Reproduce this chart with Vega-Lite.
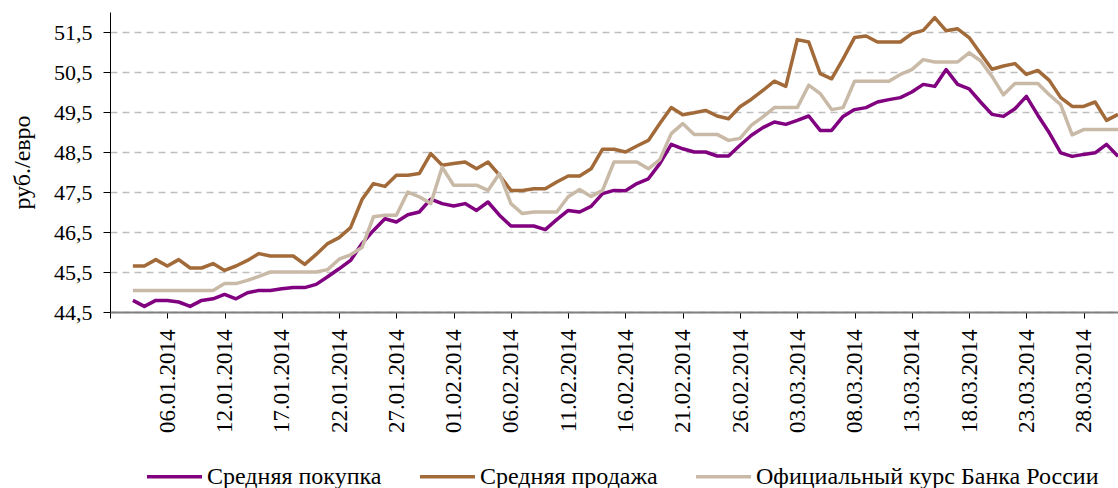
{
  "$schema": "https://vega.github.io/schema/vega-lite/v6.json",
  "width": 1008,
  "height": 300,
  "autosize": {"type": "none"},
  "padding": {"left": 110, "top": 12, "right": 0, "bottom": 176},
  "background": "white",
  "config": {"view": {"stroke": null}, "font": "Liberation Serif"},
  "data": {"values": [
    {"date": "03.01.2014", "buy": 44.79, "sell": 45.65, "cbr": 45.04},
    {"date": "04.01.2014", "buy": 44.64, "sell": 45.65, "cbr": 45.04},
    {"date": "05.01.2014", "buy": 44.79, "sell": 45.81, "cbr": 45.04},
    {"date": "06.01.2014", "buy": 44.79, "sell": 45.65, "cbr": 45.04},
    {"date": "08.01.2014", "buy": 44.75, "sell": 45.81, "cbr": 45.04},
    {"date": "09.01.2014", "buy": 44.64, "sell": 45.60, "cbr": 45.04},
    {"date": "10.01.2014", "buy": 44.79, "sell": 45.60, "cbr": 45.04},
    {"date": "11.01.2014", "buy": 44.83, "sell": 45.71, "cbr": 45.04},
    {"date": "12.01.2014", "buy": 44.94, "sell": 45.54, "cbr": 45.21},
    {"date": "13.01.2014", "buy": 44.83, "sell": 45.65, "cbr": 45.21},
    {"date": "14.01.2014", "buy": 44.98, "sell": 45.79, "cbr": 45.29},
    {"date": "15.01.2014", "buy": 45.04, "sell": 45.96, "cbr": 45.39},
    {"date": "16.01.2014", "buy": 45.04, "sell": 45.90, "cbr": 45.50},
    {"date": "17.01.2014", "buy": 45.08, "sell": 45.90, "cbr": 45.50},
    {"date": "18.01.2014", "buy": 45.11, "sell": 45.90, "cbr": 45.50},
    {"date": "19.01.2014", "buy": 45.11, "sell": 45.69, "cbr": 45.50},
    {"date": "20.01.2014", "buy": 45.19, "sell": 45.94, "cbr": 45.50},
    {"date": "21.01.2014", "buy": 45.38, "sell": 46.21, "cbr": 45.56},
    {"date": "22.01.2014", "buy": 45.58, "sell": 46.36, "cbr": 45.82},
    {"date": "23.01.2014", "buy": 45.79, "sell": 46.61, "cbr": 45.93},
    {"date": "24.01.2014", "buy": 46.21, "sell": 47.31, "cbr": 46.11},
    {"date": "25.01.2014", "buy": 46.54, "sell": 47.71, "cbr": 46.88},
    {"date": "26.01.2014", "buy": 46.83, "sell": 47.64, "cbr": 46.92},
    {"date": "27.01.2014", "buy": 46.75, "sell": 47.92, "cbr": 46.92},
    {"date": "28.01.2014", "buy": 46.93, "sell": 47.92, "cbr": 47.50},
    {"date": "29.01.2014", "buy": 47.00, "sell": 47.96, "cbr": 47.38},
    {"date": "30.01.2014", "buy": 47.32, "sell": 48.46, "cbr": 47.21},
    {"date": "31.01.2014", "buy": 47.21, "sell": 48.17, "cbr": 48.12},
    {"date": "01.02.2014", "buy": 47.15, "sell": 48.21, "cbr": 47.67},
    {"date": "02.02.2014", "buy": 47.21, "sell": 48.25, "cbr": 47.67},
    {"date": "03.02.2014", "buy": 47.04, "sell": 48.08, "cbr": 47.67},
    {"date": "04.02.2014", "buy": 47.25, "sell": 48.25, "cbr": 47.54},
    {"date": "05.02.2014", "buy": 46.92, "sell": 47.92, "cbr": 47.96},
    {"date": "06.02.2014", "buy": 46.65, "sell": 47.54, "cbr": 47.21},
    {"date": "07.02.2014", "buy": 46.65, "sell": 47.54, "cbr": 46.96},
    {"date": "08.02.2014", "buy": 46.65, "sell": 47.58, "cbr": 47.00},
    {"date": "09.02.2014", "buy": 46.56, "sell": 47.58, "cbr": 47.00},
    {"date": "10.02.2014", "buy": 46.81, "sell": 47.75, "cbr": 47.00},
    {"date": "11.02.2014", "buy": 47.04, "sell": 47.90, "cbr": 47.38},
    {"date": "12.02.2014", "buy": 47.00, "sell": 47.90, "cbr": 47.56},
    {"date": "13.02.2014", "buy": 47.14, "sell": 48.08, "cbr": 47.39},
    {"date": "14.02.2014", "buy": 47.46, "sell": 48.57, "cbr": 47.54},
    {"date": "15.02.2014", "buy": 47.54, "sell": 48.57, "cbr": 48.25},
    {"date": "16.02.2014", "buy": 47.53, "sell": 48.50, "cbr": 48.25},
    {"date": "17.02.2014", "buy": 47.71, "sell": 48.65, "cbr": 48.25},
    {"date": "18.02.2014", "buy": 47.83, "sell": 48.79, "cbr": 48.08},
    {"date": "19.02.2014", "buy": 48.21, "sell": 49.21, "cbr": 48.31},
    {"date": "20.02.2014", "buy": 48.69, "sell": 49.61, "cbr": 48.96},
    {"date": "21.02.2014", "buy": 48.58, "sell": 49.43, "cbr": 49.21},
    {"date": "22.02.2014", "buy": 48.50, "sell": 49.48, "cbr": 48.94},
    {"date": "23.02.2014", "buy": 48.50, "sell": 49.54, "cbr": 48.94},
    {"date": "24.02.2014", "buy": 48.40, "sell": 49.40, "cbr": 48.94},
    {"date": "25.02.2014", "buy": 48.40, "sell": 49.33, "cbr": 48.79},
    {"date": "26.02.2014", "buy": 48.67, "sell": 49.63, "cbr": 48.84},
    {"date": "27.02.2014", "buy": 48.92, "sell": 49.82, "cbr": 49.17},
    {"date": "28.02.2014", "buy": 49.11, "sell": 50.04, "cbr": 49.38},
    {"date": "01.03.2014", "buy": 49.25, "sell": 50.27, "cbr": 49.61},
    {"date": "02.03.2014", "buy": 49.19, "sell": 50.14, "cbr": 49.61},
    {"date": "03.03.2014", "buy": 49.29, "sell": 51.31, "cbr": 49.61},
    {"date": "04.03.2014", "buy": 49.40, "sell": 51.25, "cbr": 50.17},
    {"date": "05.03.2014", "buy": 49.04, "sell": 50.46, "cbr": 49.96},
    {"date": "06.03.2014", "buy": 49.04, "sell": 50.33, "cbr": 49.56},
    {"date": "07.03.2014", "buy": 49.39, "sell": 50.83, "cbr": 49.61},
    {"date": "08.03.2014", "buy": 49.56, "sell": 51.36, "cbr": 50.27},
    {"date": "09.03.2014", "buy": 49.61, "sell": 51.40, "cbr": 50.27},
    {"date": "10.03.2014", "buy": 49.75, "sell": 51.25, "cbr": 50.27},
    {"date": "11.03.2014", "buy": 49.81, "sell": 51.25, "cbr": 50.27},
    {"date": "12.03.2014", "buy": 49.86, "sell": 51.25, "cbr": 50.44},
    {"date": "13.03.2014", "buy": 50.00, "sell": 51.46, "cbr": 50.56},
    {"date": "14.03.2014", "buy": 50.19, "sell": 51.54, "cbr": 50.81},
    {"date": "15.03.2014", "buy": 50.14, "sell": 51.86, "cbr": 50.75},
    {"date": "16.03.2014", "buy": 50.56, "sell": 51.53, "cbr": 50.75},
    {"date": "17.03.2014", "buy": 50.19, "sell": 51.58, "cbr": 50.75},
    {"date": "18.03.2014", "buy": 50.08, "sell": 51.36, "cbr": 50.98},
    {"date": "19.03.2014", "buy": 49.75, "sell": 50.96, "cbr": 50.78},
    {"date": "20.03.2014", "buy": 49.44, "sell": 50.57, "cbr": 50.39},
    {"date": "21.03.2014", "buy": 49.39, "sell": 50.65, "cbr": 49.93},
    {"date": "22.03.2014", "buy": 49.58, "sell": 50.71, "cbr": 50.21},
    {"date": "23.03.2014", "buy": 49.89, "sell": 50.44, "cbr": 50.21},
    {"date": "24.03.2014", "buy": 49.42, "sell": 50.54, "cbr": 50.21},
    {"date": "25.03.2014", "buy": 48.98, "sell": 50.29, "cbr": 49.93},
    {"date": "26.03.2014", "buy": 48.48, "sell": 49.86, "cbr": 49.68},
    {"date": "27.03.2014", "buy": 48.39, "sell": 49.64, "cbr": 48.93},
    {"date": "28.03.2014", "buy": 48.44, "sell": 49.64, "cbr": 49.06},
    {"date": "29.03.2014", "buy": 48.48, "sell": 49.75, "cbr": 49.06},
    {"date": "30.03.2014", "buy": 48.69, "sell": 49.29, "cbr": 49.06},
    {"date": "31.03.2014", "buy": 48.39, "sell": 49.44, "cbr": 49.06}
  ]},
  "transform": [{"fold": ["buy", "sell", "cbr"], "as": ["series", "value"]}],
  "mark": {"type": "line", "strokeWidth": 3.5, "strokeJoin": "round"},
  "encoding": {
    "x": {
      "field": "date",
      "type": "ordinal",
      "sort": null,
      "scale": {
        "type": "point",
        "padding": 0,
        "domain": ["01.01.2014","02.01.2014","03.01.2014","04.01.2014","05.01.2014","06.01.2014","08.01.2014","09.01.2014","10.01.2014","11.01.2014","12.01.2014","13.01.2014","14.01.2014","15.01.2014","16.01.2014","17.01.2014","18.01.2014","19.01.2014","20.01.2014","21.01.2014","22.01.2014","23.01.2014","24.01.2014","25.01.2014","26.01.2014","27.01.2014","28.01.2014","29.01.2014","30.01.2014","31.01.2014","01.02.2014","02.02.2014","03.02.2014","04.02.2014","05.02.2014","06.02.2014","07.02.2014","08.02.2014","09.02.2014","10.02.2014","11.02.2014","12.02.2014","13.02.2014","14.02.2014","15.02.2014","16.02.2014","17.02.2014","18.02.2014","19.02.2014","20.02.2014","21.02.2014","22.02.2014","23.02.2014","24.02.2014","25.02.2014","26.02.2014","27.02.2014","28.02.2014","01.03.2014","02.03.2014","03.03.2014","04.03.2014","05.03.2014","06.03.2014","07.03.2014","08.03.2014","09.03.2014","10.03.2014","11.03.2014","12.03.2014","13.03.2014","14.03.2014","15.03.2014","16.03.2014","17.03.2014","18.03.2014","19.03.2014","20.03.2014","21.03.2014","22.03.2014","23.03.2014","24.03.2014","25.03.2014","26.03.2014","27.03.2014","28.03.2014","29.03.2014","30.03.2014","31.03.2014"]
      },
      "axis": {
        "title": null,
        "values": ["01.01.2014","06.01.2014","12.01.2014","17.01.2014","22.01.2014","27.01.2014","01.02.2014","06.02.2014","11.02.2014","16.02.2014","21.02.2014","26.02.2014","03.03.2014","08.03.2014","13.03.2014","18.03.2014","23.03.2014","28.03.2014"],
        "labelExpr": "datum.value == '01.01.2014' ? '' : datum.value",
        "labelAngle": -90,
        "labelFont": "Liberation Serif",
        "labelFontSize": 23,
        "labelColor": "black",
        "labelPadding": 11,
        "labelOverlap": false,
        "tickColor": "black",
        "tickSize": 6,
        "tickWidth": 1,
        "domainColor": "#808080",
        "domainWidth": 2,
        "grid": false
      }
    },
    "y": {
      "field": "value",
      "type": "quantitative",
      "scale": {"domain": [44.5, 52], "nice": false, "zero": false},
      "axis": {
        "title": "руб./евро",
        "titleFont": "Liberation Serif",
        "titleFontSize": 24,
        "titleFontWeight": "normal",
        "titleColor": "black",
        "titlePadding": 19,
        "values": [44.5, 45.5, 46.5, 47.5, 48.5, 49.5, 50.5, 51.5],
        "labelExpr": "replace(format(datum.value, '.1f'), '.', ',')",
        "labelFont": "Liberation Serif",
        "labelFontSize": 22,
        "labelColor": "black",
        "labelPadding": 11,
        "tickColor": "black",
        "tickSize": 7,
        "domainColor": "black",
        "domainWidth": 1,
        "grid": true,
        "gridColor": "#BFBFBF",
        "gridDash": [7, 5],
        "gridWidth": 1.5
      }
    },
    "color": {
      "field": "series",
      "type": "nominal",
      "scale": {"domain": ["buy", "sell", "cbr"], "range": ["#800080", "#A26A39", "#C9BAA8"]},
      "legend": {
        "orient": "none",
        "legendX": 35,
        "legendY": 435,
        "direction": "horizontal",
        "title": null,
        "symbolType": "stroke",
        "symbolSize": 3025,
        "symbolStrokeWidth": 3.5,
        "labelFont": "Liberation Serif",
        "labelFontSize": 24,
        "labelColor": "black",
        "labelOffset": 3,
        "labelLimit": 600,
        "columnPadding": 31,
        "labelExpr": "datum.label == 'buy' ? 'Средняя покупка' : datum.label == 'sell' ? 'Средняя продажа' : 'Официальный курс Банка России'"
      }
    }
  }
}
